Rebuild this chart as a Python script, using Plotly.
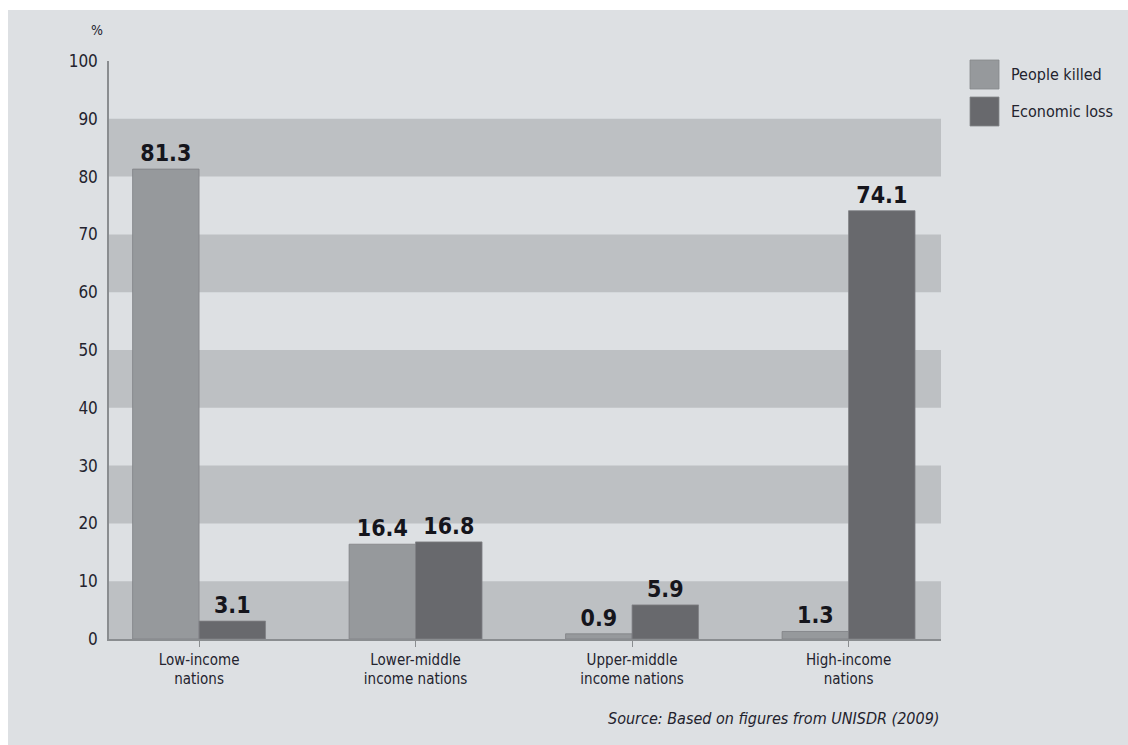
import plotly.graph_objects as go

categories = ["Low-income<br>nations", "Lower-middle<br>income nations",
              "Upper-middle<br>income nations", "High-income<br>nations"]
people_killed = [81.3, 16.4, 0.9, 1.3]
economic_loss = [3.1, 16.8, 5.9, 74.1]
y_ticks = [0, 10, 20, 30, 40, 50, 60, 70, 80, 90, 100]
series_names = ["People killed", "Economic loss"]
colors = ["#96999c", "#68696d"]

W, H = 1128, 745
L, R, T, B = 109, 941, 61, 639
FONT = "DejaVu Sans Condensed, Liberation Sans Narrow, sans-serif"
TXT = "#23232e"

def px_x(px):
    return (px - L) / (R - L)

def px_y(py):
    return (B - py) / (B - T)

fig = go.Figure()
for name, vals, col in zip(series_names, [people_killed, economic_loss], colors):
    fig.add_trace(go.Bar(
        x=categories, y=vals, name=name,
        marker=dict(color=col, line=dict(color="#808285", width=0.8)),
        text=[f"{v:.1f}" for v in vals], textposition="outside",
        textfont=dict(family=FONT, size=23, color="#15151c", weight=700),
        cliponaxis=False, showlegend=False,
    ))

shapes = [dict(type="rect", xref="paper", yref="paper",
               x0=px_x(8), x1=px_x(W + 5), y0=px_y(H + 5), y1=px_y(10),
               fillcolor="#dde0e3", line=dict(width=0), layer="below")]
for lo in range(0, 100, 20):
    shapes.append(dict(type="rect", xref="paper", yref="y", x0=0, x1=1,
                       y0=lo, y1=lo + 10, fillcolor="#bdc0c3",
                       line=dict(width=0), layer="below"))

annotations = [dict(text="%", xref="paper", yref="paper", x=px_x(97), y=px_y(30),
                    xanchor="center", yanchor="middle",
                    showarrow=False, font=dict(family=FONT, size=14, color=TXT)),
               dict(text="<i>Source: Based on figures from UNISDR (2009)</i>",
                    xref="paper", yref="paper", x=px_x(941), y=px_y(719),
                    xanchor="right", yanchor="middle", showarrow=False,
                    font=dict(family=FONT, size=16, color=TXT))]

legend_rows = [(60, 89), (97, 126)]
for (y0, y1), name, col in zip(legend_rows, series_names, colors):
    shapes.append(dict(type="rect", xref="paper", yref="paper",
                       x0=px_x(970), x1=px_x(999), y0=px_y(y1), y1=px_y(y0),
                       fillcolor=col, line=dict(color="#85888b", width=0.8)))
    annotations.append(dict(text=name, xref="paper", yref="paper",
                            x=px_x(1009), y=px_y((y0 + y1) / 2),
                            xanchor="left", yanchor="middle",
                            showarrow=False,
                            font=dict(family=FONT, size=16, color=TXT)))

fig.update_layout(
    width=W, height=H,
    margin=dict(l=L, r=W - R, t=T, b=H - B, pad=0),
    paper_bgcolor="white", plot_bgcolor="rgba(0,0,0,0)",
    barmode="group", bargap=0.386, bargroupgap=0,
    shapes=shapes, annotations=annotations,
    font=dict(family=FONT, color=TXT),
    xaxis=dict(range=[-0.416, 3.427], showgrid=False, showline=True,
               linecolor="#8a8d90", linewidth=1.5, ticks="outside",
               ticklen=6, tickcolor="#8a8d90", tickwidth=1.2,
               tickfont=dict(family=FONT, size=15, color=TXT), zeroline=False),
    yaxis=dict(range=[0, 100], tickvals=y_ticks, showgrid=False, showline=True,
               linecolor="#8a8d90", linewidth=1.5, ticks="", ticklabelstandoff=6,
               tickfont=dict(family=FONT, size=17, color=TXT), zeroline=False),
)

fig.write_html("out.html")
